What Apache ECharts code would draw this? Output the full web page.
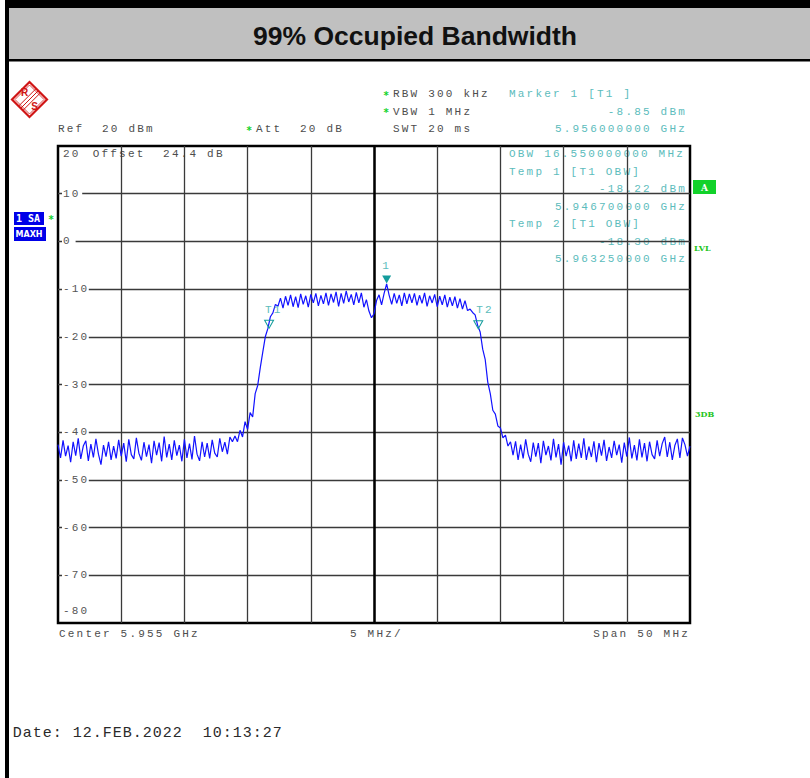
<!DOCTYPE html>
<html>
<head>
<meta charset="utf-8">
<script src="https://cdn.jsdelivr.net/npm/echarts@6/dist/echarts.min.js"></script>
<style>
html,body{margin:0;padding:0;background:#fff;}
#chart{width:810px;height:778px;}
#chart text[style*="Liberation Mono"]{letter-spacing:2.2px;}
#chart text[style*="15px"][style*="Liberation Mono"]{letter-spacing:1px;}
</style>
</head>
<body>
<div id="chart"></div>
<script>
// ---------------- data ----------------
const titleText = '99% Occupied Bandwidth';
const sweepStartMHz = 5930;
const sweepStepMHz = 0.2;
const xAxisMinMHz = 5930, xAxisMaxMHz = 5980, xAxisStepMHz = 5;
const yAxisMinDbm = -80, yAxisMaxDbm = 20, yAxisStepDb = 10;
const centerMHz = 5955;

const leftFloorDbm = [
  -42.6,-45.4,-41.7,-45.0,-42.8,-46.3,-42.0,-44.9,-41.3,-45.6,
  -42.9,-41.8,-46.0,-42.5,-45.3,-41.4,-44.6,-46.8,-42.7,-45.1,
  -42.0,-45.8,-42.9,-45.5,-41.6,-45.0,-42.3,-46.2,-41.5,-44.7,
  -45.6,-41.2,-44.4,-45.9,-42.1,-45.1,-42.6,-46.5,-41.8,-44.8,
  -42.2,-46.1,-40.9,-45.3,-42.5,-45.8,-41.7,-44.9,-42.7,-46.1,
  -41.5,-45.4,-42.4,-45.7,-40.8,-44.6,-46.0,-42.0,-45.2,-42.3,
  -45.5,-41.6,-44.4,-45.2,-41.3,-44.1,-42.1,-44.6,-41.0,-42.0
];
const risingEdgeDbm = [
  -40.8,-42.0,-39.6,-41.0,-37.8,-39.4,-35.9,-36.8,-31.9,-30.2,
  -26.5,-23.2,-20.0,-18.3,-15.8,-15.0,-13.2
];
const plateauDbm = [
  -13.6,-11.9,-14.0,-11.5,-13.4,-11.2,-13.7,-11.6,-13.9,-11.0,
  -13.2,-11.4,-13.8,-11.1,-12.9,-10.9,-13.5,-11.3,-13.1,-10.8,
  -13.4,-11.0,-12.8,-10.6,-13.6,-10.9,-13.0,-10.4,-12.7,-11.1,
  -13.3,-10.7,-12.9,-10.8,-13.8,-12.2,-14.6,-16.0,
  -15.2,-12.4,-11.2,-13.3,-10.9,
  -8.9,
  -11.3,-13.2,-10.9,-13.0,-11.2,-13.5,-10.8,-13.1,-11.0,-12.9,
  -10.9,-13.4,-11.3,-13.0,-10.8,-13.6,-11.4,-12.9,-11.1,-13.7,
  -11.5,-13.3,-11.2,-13.8,-11.7,-13.5,-11.6,-14.0,-12.0,-14.2,-12.4,-14.5
];
const fallingEdgeDbm = [
  -14.2,-14.9,-15.4,-17.6,-19.0,-22.6,-24.8,-29.5,-31.9,-35.4,
  -36.2,-38.7,-39.1,-41.2,-40.6,-42.9,-42.0
];
const rightFloorDbm = [
  -44.8,-41.9,-45.8,-42.6,-45.5,-41.5,-44.6,-46.2,-42.2,-45.1,
  -42.3,-46.5,-41.8,-44.8,-42.9,-45.9,-41.4,-45.3,-42.5,-46.8,
  -42.1,-45.0,-42.8,-46.1,-41.7,-45.6,-42.4,-45.4,-41.3,-45.8,
  -43.0,-45.2,-41.9,-46.3,-42.3,-44.9,-41.6,-46.0,-43.1,-45.4,
  -41.8,-44.8,-42.6,-46.4,-42.2,-45.1,-41.1,-45.5,-42.7,-45.9,
  -41.5,-45.3,-42.3,-46.1,-42.0,-44.7,-45.6,-41.7,-45.0,-42.4,
  -41.0,-45.2,-42.1,-45.8,-42.8,-41.4,-45.4,-41.2,-42.6,-45.0,-42.9
];

const markerNames = ['1', 'T1', 'T2'];
const markerFreqMHz = [5956, 5946.7, 5963.25];
const markerLevelDbm = [-8.85, -18.22, -18.30];
const markerFilled = [true, false, false];

const traceDbm = [].concat(leftFloorDbm, risingEdgeDbm, plateauDbm, fallingEdgeDbm, rightFloorDbm);
const traceData = traceDbm.map((v, i) => [sweepStartMHz + i * sweepStepMHz, v]);

// ---------------- styles ----------------
const MONO = 'Liberation Mono';
const GRAY = '#4d4d4d';
const TEAL = '#5cbcbc';
const TEAL_DARK = '#139c9c';
const GREEN = '#12d22a';
const BLUE = '#0000e8';
const RED = '#d01515';

function txt(text, x, y, o) {
  o = o || {};
  const align = o.align || 'left';
  return {
    type: 'text', x: x, y: y, z: (o.z != null ? o.z : 10), silent: true,
    scaleX: o.scaleX || 1,
    style: {
      text: text, fill: o.color || GRAY,
      font: o.font || ('11px "' + MONO + '"'),
      textAlign: align, align: align,
      textVerticalAlign: 'middle', verticalAlign: 'middle'
    }
  };
}

const graphics = [
  // frame
  {type: 'rect', z: 1, silent: true, shape: {x: 5, y: 0, width: 805, height: 8}, style: {fill: '#000'}},
  {type: 'rect', z: 1, silent: true, shape: {x: 9, y: 8, width: 801, height: 51}, style: {fill: '#c0c0c0'}},
  {type: 'rect', z: 1, silent: true, shape: {x: 5, y: 59, width: 805, height: 2.5}, style: {fill: '#000'}},
  {type: 'rect', z: 1, silent: true, shape: {x: 5, y: 0, width: 4, height: 778}, style: {fill: '#000'}},
  txt(titleText, 415, 36, {font: 'bold 26px "Liberation Sans"', color: '#111', align: 'center', scaleX: 1.02}),

  // R&S logo
  {type: 'polygon', z: 5, silent: true, shape: {points: [[29.5, 82], [47, 99.5], [29.5, 117], [12, 99.5]]},
    style: {fill: '#fff', stroke: RED, lineWidth: 2.2}},
  {type: 'polygon', z: 5, silent: true, shape: {points: [[29.5, 85], [44, 99.5], [29.5, 114], [15, 99.5]]},
    style: {fill: 'none', stroke: RED, lineWidth: 0.8}},
  {type: 'line', z: 6, silent: true, shape: {x1: 20.75, y1: 108.25, x2: 38.25, y2: 90.75}, style: {stroke: RED, lineWidth: 1}},
  {type: 'line', z: 6, silent: true, shape: {x1: 18.6, y1: 106.1, x2: 36.1, y2: 88.6}, style: {stroke: RED, lineWidth: 1}},
  {type: 'line', z: 6, silent: true, shape: {x1: 22.9, y1: 110.4, x2: 40.4, y2: 92.9}, style: {stroke: RED, lineWidth: 1}},
  txt('R', 24.5, 92.5, {font: 'bold 10px "Liberation Sans"', color: RED, align: 'center'}),
  txt('S', 34.5, 106.5, {font: 'bold 10px "Liberation Sans"', color: RED, align: 'center'}),

  // header info
  txt('*', 386, 95, {font: 'bold 10px "DejaVu Sans"', color: GREEN, align: 'center'}),
  txt('RBW 300 kHz', 393, 94),
  txt('*', 386, 112, {font: 'bold 10px "DejaVu Sans"', color: GREEN, align: 'center'}),
  txt('VBW 1 MHz', 393, 111.5),
  txt('SWT 20 ms', 393, 129),
  txt('Ref  20 dBm', 58, 129),
  txt('*', 249, 130, {font: 'bold 10px "DejaVu Sans"', color: GREEN, align: 'center'}),
  txt('Att  20 dB', 256, 129),
  txt('Marker 1 [T1 ]', 509, 94, {color: TEAL}),
  txt('-8.85 dBm', 687, 111.5, {color: TEAL, align: 'right'}),
  txt('5.956000000 GHz', 687, 129, {color: TEAL, align: 'right'}),

  // inside plot (under grid)
  txt('Offset  24.4 dB', 92.7, 153.7, {z: -1}),
  txt('OBW 16.550000000 MHz', 509, 154, {color: TEAL, z: -1}),
  txt('Temp 1 [T1 OBW]', 509, 172, {color: TEAL, z: -1}),
  txt('-18.22 dBm', 687, 189, {color: TEAL, align: 'right', z: -1}),
  txt('5.946700000 GHz', 687, 207, {color: TEAL, align: 'right', z: -1}),
  txt('Temp 2 [T1 OBW]', 509, 224, {color: TEAL, z: -1}),
  txt('-18.30 dBm', 687, 241.7, {color: TEAL, align: 'right', z: -1}),
  txt('5.963250000 GHz', 687, 259, {color: TEAL, align: 'right', z: -1}),

  // bottom
  txt('Center 5.955 GHz', 59, 634),
  txt('5 MHz/', 350, 634),
  txt('Span 50 MHz', 690, 634, {align: 'right'}),
  txt('Date: 12.FEB.2022  10:13:27', 12.7, 733, {font: '15px "' + MONO + '"', color: '#2a2a2a'}),

  // side badges
  {type: 'rect', z: 5, silent: true, shape: {x: 14, y: 212, width: 30, height: 13}, style: {fill: BLUE}},
  txt('1 SA', 16, 218.7, {font: 'bold 10px "DejaVu Sans Mono"', color: '#fff'}),
  txt('*', 51, 219, {font: 'bold 10px "DejaVu Sans"', color: GREEN, align: 'center'}),
  {type: 'rect', z: 5, silent: true, shape: {x: 14, y: 227, width: 32, height: 14}, style: {fill: BLUE}},
  txt('MAXH', 15.5, 234, {font: 'bold 8px "DejaVu Sans"', color: '#fff'}),
  {type: 'rect', z: 5, silent: true, shape: {x: 693, y: 180, width: 23, height: 14}, style: {fill: GREEN}},
  txt('A', 704.5, 187.5, {font: 'bold 9px "DejaVu Serif"', color: '#fff', align: 'center'}),
  txt('LVL', 694, 247.5, {font: 'bold 8px "DejaVu Serif"', color: '#22c422'}),
  txt('3DB', 695, 413.5, {font: 'bold 8px "DejaVu Serif"', color: '#22c422'})
];

const markData = markerNames.map((name, i) => {
  const filled = markerFilled[i];
  return {
    name: name,
    coord: [markerFreqMHz[i], markerLevelDbm[i]],
    symbol: 'triangle',
    symbolRotate: 180,
    symbolSize: [9, 8],
    symbolOffset: [0, '-50%'],
    itemStyle: filled
      ? {color: TEAL_DARK}
      : {color: 'rgba(0,0,0,0)', borderColor: TEAL_DARK, borderWidth: 1},
    label: filled
      ? {show: true, formatter: name, position: 'top', distance: 4, color: TEAL,
         fontFamily: MONO, fontSize: 11}
      : {show: true, formatter: name, position: [i === 1 ? 1 : 3, -10], align: 'left', verticalAlign: 'middle',
         color: TEAL, fontFamily: MONO, fontSize: 11}
  };
});

const option = {
  animation: false,
  backgroundColor: '#fff',
  grid: {
    left: 58, right: 120, top: 146, bottom: 155,
    show: true, borderColor: '#000', borderWidth: 2.5, backgroundColor: 'rgba(0,0,0,0)',
    containLabel: false
  },
  xAxis: {
    type: 'value', min: xAxisMinMHz, max: xAxisMaxMHz, interval: xAxisStepMHz,
    axisLine: {show: false}, axisTick: {show: false}, axisLabel: {show: false},
    splitLine: {show: true, showMinLine: false, showMaxLine: false, lineStyle: {color: '#3a3a3a', width: 1.3}}
  },
  yAxis: {
    type: 'value', min: yAxisMinDbm, max: yAxisMaxDbm, interval: yAxisStepDb,
    axisLine: {show: false}, axisTick: {show: false},
    splitLine: {show: true, showMinLine: false, showMaxLine: false, lineStyle: {color: '#3a3a3a', width: 1.3}},
    axisLabel: {
      show: true, inside: true, margin: 4, color: '#555', fontFamily: MONO, fontSize: 11,
      formatter: function (v) {
        if (v === yAxisMaxDbm) return '{top|' + v + '}';
        if (v === yAxisMinDbm) return '{bot|' + v + '}';
        return '{mid|' + v + '}';
      },
      rich: {
        mid: {backgroundColor: '#fff', padding: [1, 6, 1, 1]},
        top: {padding: [16, 0, 0, 1]},
        bot: {padding: [0, 0, 25, 1]}
      }
    }
  },
  series: [{
    type: 'line',
    data: traceData,
    showSymbol: false,
    symbol: 'none',
    lineStyle: {color: '#1212ff', width: 1.2},
    z: 3,
    markLine: {
      silent: true, symbol: ['none', 'none'], label: {show: false},
      lineStyle: {color: '#000', width: 2.5, type: 'solid'},
      data: [{xAxis: centerMHz}],
      z: 2
    },
    markPoint: {silent: true, data: markData}
  }],
  graphic: {elements: graphics}
};

const chart = echarts.init(document.getElementById('chart'), null, {renderer: 'svg', width: 810, height: 778});
chart.setOption(option);
</script>
</body>
</html>
